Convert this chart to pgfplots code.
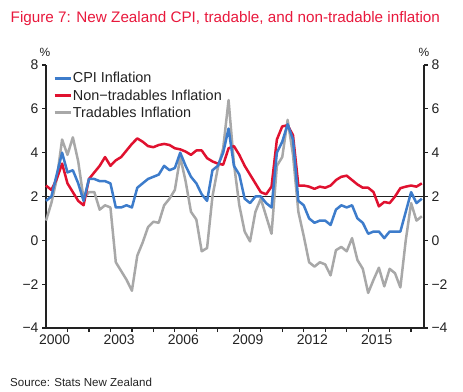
\documentclass[border=0pt]{standalone}
\usepackage{fontspec}
\setmainfont{Liberation Sans}
\usepackage{pgfplots}
\usepackage{pgfplotstable}
\pgfplotsset{compat=1.18}
\definecolor{cpiblue}{HTML}{3D7CCB}
\definecolor{ntred}{HTML}{E0112F}
\definecolor{trgray}{HTML}{A8A8A8}
\definecolor{titlered}{HTML}{E8183C}
\definecolor{txt}{HTML}{222222}

\pgfplotstableread{
x cpi nt tr
2000.00 1.8 2.5 0.9
2000.25 2.0 2.3 1.7
2000.50 3.0 2.8 2.8
2000.75 4.0 3.5 4.6
2001.00 3.1 2.6 3.9
2001.25 3.2 2.2 4.7
2001.50 2.6 1.8 3.6
2001.75 1.8 1.6 1.9
2002.00 2.8 2.8 2.2
2002.25 2.8 3.1 2.2
2002.50 2.7 3.4 1.4
2002.75 2.7 3.8 1.6
2003.00 2.6 3.4 1.5
2003.25 1.5 3.65 -1.0
2003.50 1.5 3.8 -1.4
2003.75 1.6 4.1 -1.8
2004.00 1.5 4.4 -2.3
2004.25 2.4 4.65 -0.7
2004.50 2.6 4.5 -0.1
2004.75 2.8 4.3 0.6
2005.00 2.9 4.25 0.85
2005.25 3.0 4.35 0.8
2005.50 3.4 4.4 1.6
2005.75 3.2 4.35 1.9
2006.00 3.3 4.2 2.3
2006.25 4.0 4.15 3.8
2006.50 3.4 4.05 2.7
2006.75 2.9 3.9 1.3
2007.00 2.6 4.1 0.95
2007.25 2.1 4.1 -0.5
2007.50 1.8 3.75 -0.35
2007.75 3.2 3.6 2.0
2008.00 3.4 3.5 3.3
2008.25 4.0 3.45 4.2
2008.50 5.1 4.2 6.4
2008.75 3.4 4.3 3.5
2009.00 3.0 3.9 1.6
2009.25 1.9 3.4 0.4
2009.50 1.7 3.0 -0.05
2009.75 2.0 2.6 1.3
2010.00 2.0 2.2 1.9
2010.25 1.7 2.1 1.1
2010.50 1.5 2.45 0.3
2010.75 4.0 4.6 3.4
2011.00 4.5 5.2 3.8
2011.25 5.3 5.25 5.5
2011.50 4.6 4.8 3.9
2011.75 1.8 2.5 1.3
2012.00 1.6 2.5 0.2
2012.25 1.0 2.45 -1.0
2012.50 0.8 2.35 -1.2
2012.75 0.9 2.45 -1.0
2013.00 0.9 2.4 -1.1
2013.25 0.7 2.5 -1.6
2013.50 1.4 2.75 -0.45
2013.75 1.6 2.9 -0.3
2014.00 1.5 2.95 -0.5
2014.25 1.6 2.75 0.1
2014.50 1.0 2.55 -0.9
2014.75 0.8 2.4 -1.3
2015.00 0.3 2.4 -2.4
2015.25 0.4 2.2 -1.8
2015.50 0.4 1.55 -1.25
2015.75 0.1 1.75 -2.1
2016.00 0.4 1.7 -1.3
2016.25 0.4 2.0 -1.5
2016.50 0.4 2.38 -2.15
2016.75 1.3 2.45 0.0
2017.00 2.2 2.5 1.7
2017.25 1.7 2.45 0.9
2017.50 1.9 2.6 1.1
}\datatable

\begin{document}
\begin{tikzpicture}
\useasboundingbox (0bp,0bp) rectangle (463bp,392bp);
\node[anchor=base west, text=titlered, font=\fontsize{15.3}{18}\selectfont, inner sep=0pt] at (10.5bp,369.5bp) {Figure 7: New Zealand CPI, tradable, and non-tradable inflation};
\node[anchor=base west, text=txt, font=\fontsize{11.6}{14}\selectfont, inner sep=0pt] at (10bp,5.5bp) {Source: Stats New Zealand};
\node[text=txt, font=\fontsize{12}{14}\selectfont, inner sep=0pt] at (45bp,340bp) {\%};
\node[text=txt, font=\fontsize{12}{14}\selectfont, inner sep=0pt] at (424bp,340bp) {\%};

\begin{axis}[
  at={(46bp,64bp)}, anchor=south west,
  scale only axis, width=378bp, height=263bp,
  xmin=2000, xmax=2017.6, ymin=-4, ymax=8,
  axis x line*=bottom, axis y line*=left,
  axis line style={txt, line width=1.4bp},
  tick align=outside,
  xtick={2000.4,2003.4,2006.4,2009.4,2012.4,2015.4},
  xticklabels={2000,2003,2006,2009,2012,2015},
  minor xtick={2001,2002,...,2017},
  major x tick style={draw=none},
  minor x tick style={txt, line width=1.2bp},
  minor tick length=4bp,
  major tick length=4bp,
  ytick={-4,-2,0,2,4,6,8},
  yticklabels={−4,−2,0,2,4,6,8},
  y tick style={txt, line width=1.2bp},
  ticklabel style={font=\fontsize{14}{16}\selectfont, text=txt},
  xticklabel style={yshift=1bp},
  legend style={at={(axis description cs:0.016,0.980)}, anchor=north west, draw=none, fill=none,
    font=\fontsize{14.5}{16}\selectfont, text=txt, row sep=3.2bp, inner sep=1bp,
    nodes={inner sep=1bp}},
  legend cell align=left,
  legend image code/.code={\draw[#1] (0bp,0bp) -- (16bp,0bp);},
  clip=false,
]
\addlegendimage{cpiblue, line width=2.6bp}
\addlegendentry{CPI Inflation}
\addlegendimage{ntred, line width=2.6bp}
\addlegendentry{Non−tradables Inflation}
\addlegendimage{trgray, line width=2.6bp}
\addlegendentry{Tradables Inflation}
\addplot[txt, line width=1.3bp, forget plot] coordinates {(2000,2) (2017.6,2)};
\addplot[trgray, line width=2.5bp, forget plot, line join=round] table[x=x, y=tr] {\datatable};
\addplot[ntred, line width=2.5bp, forget plot, line join=round] table[x=x, y=nt] {\datatable};
\addplot[cpiblue, line width=2.5bp, forget plot, line join=round] table[x=x, y=cpi] {\datatable};
\end{axis}

\begin{axis}[
  at={(46bp,64bp)}, anchor=south west,
  scale only axis, width=378bp, height=263bp,
  xmin=2000, xmax=2017.6, ymin=-4, ymax=8,
  axis x line=none, axis y line*=right,
  axis line style={txt, line width=1.4bp},
  tick align=outside,
  major tick length=4bp,
  ytick={-4,-2,0,2,4,6,8},
  yticklabels={−4,−2,0,2,4,6,8},
  y tick style={txt, line width=1.2bp},
  ticklabel style={font=\fontsize{14}{16}\selectfont, text=txt},
]
\addplot[draw=none, forget plot] coordinates {(2000,2) (2017.6,2)};
\end{axis}
\end{tikzpicture}
\end{document}
